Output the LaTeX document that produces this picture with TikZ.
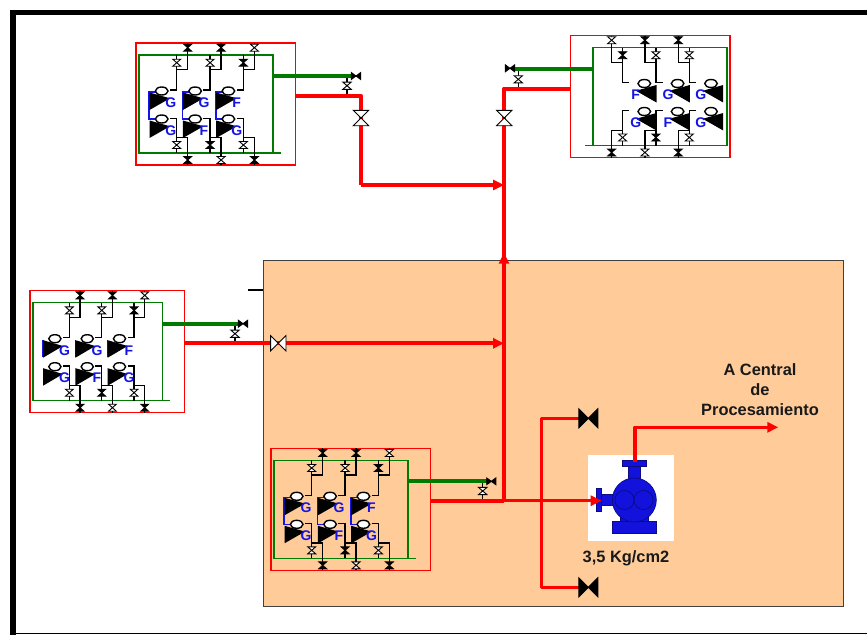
\documentclass[tikz,border=0pt]{standalone}
\usepackage{fontspec}
\setmainfont{Liberation Sans}
\usetikzlibrary{arrows.meta}
\definecolor{pipered}{HTML}{FF0000}
\definecolor{pipegreen}{HTML}{007A00}
\definecolor{roomfill}{HTML}{FFCC99}
\definecolor{lblblue}{HTML}{1414E6}
\definecolor{pumpblue}{HTML}{1212DC}
\tikzset{
  pipe/.style={draw=pipered,line width=4pt,line join=round},
  gaspipe/.style={draw=pipegreen,line width=4pt},
  redbox/.style={draw=pipered,line width=1.5pt},
  greenbox/.style={draw=pipegreen,line width=1.5pt},
  wire/.style={draw=black,line width=1.3pt},
  tag/.style={font=\bfseries\fontsize{14}{14}\selectfont,text=lblblue,inner sep=0pt},
  caption/.style={font=\bfseries\fontsize{16.4}{20}\selectfont,text=black!90,inner sep=0pt,align=center},
  endtip/.style={-{Triangle[length=11pt,width=10pt]}},
}
% hourglass valve on a vertical line: x, y, half width, half height, fill
\newcommand{\hgv}[5]{\filldraw[draw=black,line width=0.9pt,fill=#5] (#1-#3,#2-#4)--(#1+#3,#2-#4)--(#1-#3,#2+#4)--(#1+#3,#2+#4)--cycle;}
% bowtie valve on a horizontal line: x, y, half width, half height, fill
\newcommand{\hgh}[5]{\filldraw[draw=black,line width=0.9pt,fill=#5] (#1-#3,#2-#4)--(#1+#3,#2+#4)--(#1+#3,#2-#4)--(#1-#3,#2+#4)--cycle;}
% compressor module: prefix, shift x, shift y, xscale, compressor offset, bracket kind
\newcommand{\compmodule}[6]{%
\begin{scope}[shift={(#2,#3)},xscale=#4]
  \draw[redbox] (136,43) rectangle (295.5,165);
  \draw[greenbox] (281,153)--(139,153)--(139,55)--(273,55)--(273,153);
  \foreach \c/\pa/\pb/\pc/\pd in {0/black/white/white/black,33.4/black/white/black/white,66.7/white/black/white/black}{
    \begin{scope}[xshift=\c pt]
      \draw[wire] (187.7,43)--(187.7,69.7)--(176.7,69.7);
      \draw[wire] (176.7,55)--(176.7,90)--(170,90);
      \draw[wire] (170,118.3)--(176.7,118.3)--(176.7,153);
      \draw[wire] (176.7,137.7)--(187.7,137.7)--(187.7,165);
      \hgv{187.7}{47.7}{4}{3.5}{\pa}
      \hgv{176.7}{62.7}{4}{3.5}{\pb}
      \hgv{176.7}{145}{4}{3.5}{\pc}
      \hgv{187.7}{160}{4}{3.5}{\pd}
      \begin{scope}[xshift=#5 pt]
        \ifnum#6=1
          \draw[draw=lblblue,line width=1.6pt] (156,92)--(149,92)--(149,119)--(156,119);
        \fi
        \ifnum#6=2
          \draw[draw=lblblue,line width=1.6pt] (149.5,92.5)--(149.5,109);
        \fi
        \fill[black] (149.5,92.5)--(170,98.3)--(149.5,110)--cycle;
        \fill[black] (149.5,120.5)--(170,126.3)--(149.5,138)--cycle;
        \filldraw[draw=black,line width=1.4pt,fill=white] (161.7,91) ellipse (6.3 and 4);
        \filldraw[draw=black,line width=1.4pt,fill=white] (161.7,119) ellipse (6.3 and 4);
      \end{scope}
    \end{scope}
  }
\end{scope}
}
\begin{document}
\begin{tikzpicture}[x=1pt,y=-1pt]
\useasboundingbox (0,0) rectangle (867,635);
\fill[white] (0,0) rectangle (867,635);
% frame
\fill[black] (10,10) rectangle (867,15);
\fill[black] (10,10) rectangle (16,635);
\fill[black] (16,632.6) rectangle (867,633.8);
% room
\filldraw[fill=roomfill,draw=black!75,line width=1pt] (263,260.5) rectangle (843,606);
\coordinate (tickA) at (248,290);
\coordinate (tickB) at (263,290);
\draw[wire] (tickA)--(tickB);

% modules
\compmodule{m}{0}{0}{1}{0}{1}
\compmodule{r}{866}{-7.5}{-1}{-6.7}{0}
\compmodule{l}{-101.8}{247.7}{0.969}{0}{2}
\compmodule{b}{135}{405.3}{1}{0}{1}

% letters
\foreach \pre/\xa/\xb/\xc/\ya/\yb/\ta/\tb/\tc/\td/\te/\tf in {
  m/170.7/204/236.7/103/130.5/G/G/F/G/F/G,
  r/635.7/668/700.7/94.5/122.7/F/G/G/G/F/G,
  l/64.5/97/129/350.5/378/G/G/F/G/F/G,
  b/306/339/371.5/508/535.5/G/G/F/G/F/G}{
  \node[tag] (\pre t1) at (\xa,\ya) {\ta};
  \node[tag] (\pre t2) at (\xb,\ya) {\tb};
  \node[tag] (\pre t3) at (\xc,\ya) {\tc};
  \node[tag] (\pre t4) at (\xa,\yb) {\td};
  \node[tag] (\pre t5) at (\xb,\yb) {\te};
  \node[tag] (\pre t6) at (\xc,\yb) {\tf};
}

% named junctions
\coordinate (mG) at (273,76);   \coordinate (mGe) at (352,76);
\coordinate (mR) at (296,95.7); \coordinate (mRc) at (361,95.7);
\coordinate (mRd) at (361,185); \coordinate (mJ) at (504,185);
\coordinate (rG) at (592,68.5); \coordinate (rGe) at (514,68.5);
\coordinate (rR) at (570,88.5); \coordinate (rRc) at (504,88.5);
\coordinate (lG) at (163,323.7);\coordinate (lGe) at (239,323.7);
\coordinate (lR) at (185,343.3);\coordinate (lJ) at (504,343.3);
\coordinate (bG) at (408.7,481.3);\coordinate (bGe) at (487,481.3);
\coordinate (bR) at (431,500.7);\coordinate (bJ) at (504,500.7);
\coordinate (upTip) at (504,252.7);
\coordinate (pumpIn) at (601.7,500.7);
\coordinate (brT) at (541.7,418.3);\coordinate (brB) at (541.7,587.3);
\coordinate (vT) at (582,418.3);\coordinate (vB) at (582,587.3);
\coordinate (pumpOut) at (635,462);\coordinate (outC) at (635,427.3);
\coordinate (outTip) at (778.3,427.3);

% small vent lines
\draw[wire] (347,76)--(347,95.7);
\draw[wire] (518.3,68.5)--(518.3,88.5);
\draw[wire] (235,323.7)--(235,343.3);
\draw[wire] (482.7,481.3)--(482.7,500.7);

% gas lines
\draw[gaspipe] (mG)--(mGe);
\draw[gaspipe] (rG)--(rGe);
\draw[gaspipe] (lG)--(lGe);
\draw[gaspipe] (bG)--(bGe);

% main red lines
\draw[pipe] (mR)--(mRc)--(mRd);
\draw[pipe,endtip] (mRd)--(mJ);
\draw[pipe] (rR)--(rRc)--(bJ);
\draw[pipe,endtip] (bJ)--(upTip);
\draw[pipe,endtip] (lR)--(lJ);
\draw[pipe] (bR)--(bJ);
\draw[pipe,line width=3.5pt] (vT)--(brT)--(brB)--(vB);

% pump
\fill[white] (588,455) rectangle (674,540.7);
\begin{scope}[fill=pumpblue,draw=black!40!pumpblue,line width=0.7pt]
  \filldraw (612.3,521) rectangle (656,533);
  \filldraw (620,516) rectangle (648,521);
  \filldraw (628.3,465) rectangle (640,482);
  \filldraw (622.7,460.3) rectangle (646,466);
  \filldraw (601.7,494.3) rectangle (615,505.3);
  \filldraw (596.7,488.3) rectangle (601.7,511);
  \filldraw (634.3,500) circle (22);
  \draw (624.5,500) circle (9.6);
  \draw (643.5,500) circle (9.6);
\end{scope}
\draw[pipe,endtip,line width=3.5pt] (bJ)--(pumpIn);
\draw[pipe,endtip,line width=3.5pt] (pumpOut)--(outC)--(outTip);

% large valves
\hgv{361}{118}{7.7}{7.7}{white}
\hgv{504.3}{118}{7.7}{7.7}{white}
\hgh{278.3}{343.3}{7.7}{7.7}{white}
\hgh{588.3}{418.3}{9.5}{9.5}{black}
\hgh{588.3}{587.3}{9.5}{9.5}{black}

% vent valves
\hgh{356}{76}{4.6}{3.4}{black}
\hgv{347}{85.7}{4.2}{3.6}{white}
\hgh{510}{68.3}{4.6}{3.4}{black}
\hgv{518.3}{79.3}{4.2}{3.6}{white}
\hgh{243}{323.7}{4.6}{3.4}{black}
\hgv{235}{333.7}{4.2}{3.6}{white}
\hgh{491.3}{481.3}{4.6}{3.4}{black}
\hgv{482.7}{491}{4.2}{3.6}{white}

% captions
\node[caption] (dest) at (760,390) {A Central\\de\\Procesamiento};
\node[caption] (press) at (626,558) {3,5 Kg/cm2};
\end{tikzpicture}
\end{document}
